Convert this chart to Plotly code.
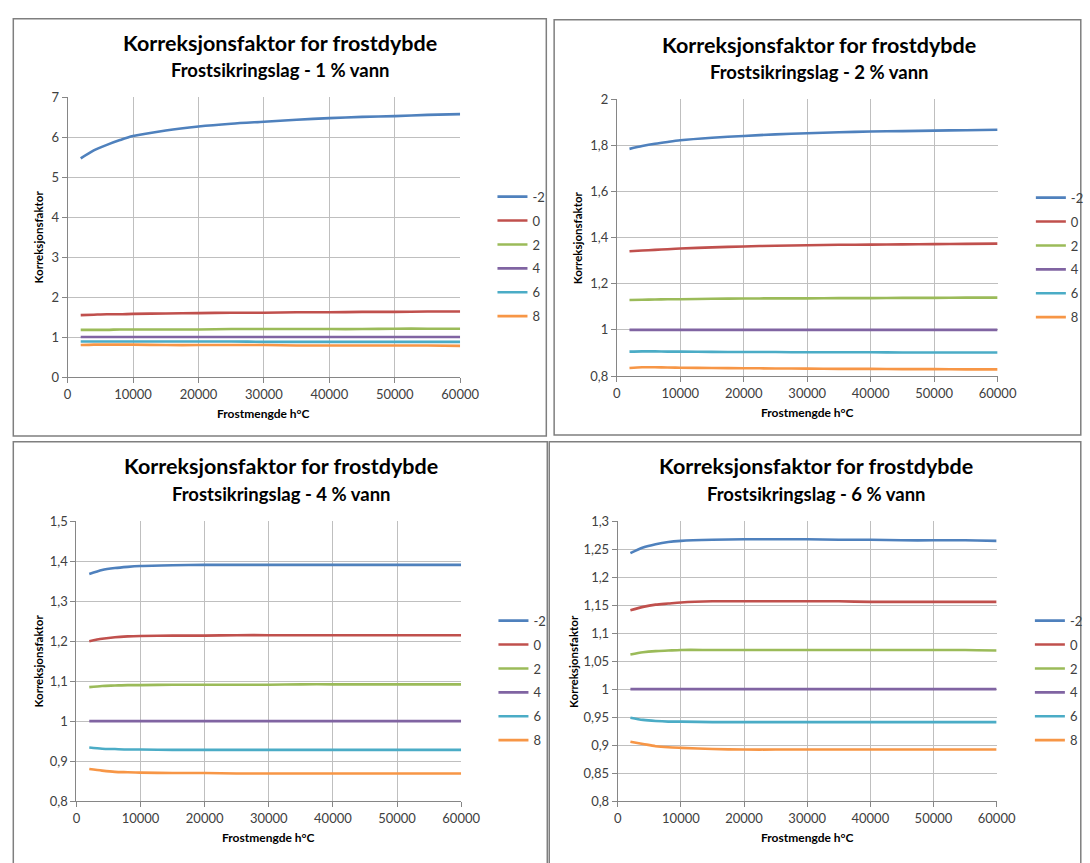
import plotly.graph_objects as go

W, H = 1090, 863

# ---------------- data ----------------
FROST_X = [2000, 4000, 6000, 8000, 10000, 15000, 20000, 25000, 30000,
           35000, 40000, 45000, 50000, 55000, 60000]
SERIES_NAMES = ["-2", "0", "2", "4", "6", "8"]
SERIES_COLORS = ["#4F81BD", "#C0504D", "#9BBB59", "#8064A2", "#4BACC6", "#F79646"]

VANN_1 = {
    "-2": [5.47, 5.67, 5.81, 5.93, 6.03, 6.17, 6.27, 6.34, 6.39, 6.44, 6.48, 6.51, 6.53, 6.56, 6.58],
    "0": [1.55, 1.56, 1.57, 1.57, 1.58, 1.59, 1.60, 1.61, 1.61, 1.62, 1.62, 1.63, 1.63, 1.64, 1.64],
    "2": [1.18, 1.18, 1.18, 1.19, 1.19, 1.19, 1.19, 1.20, 1.20, 1.20, 1.20, 1.20, 1.21, 1.21, 1.21],
    "4": [1.0] * 15,
    "6": [0.89, 0.89, 0.89, 0.89, 0.89, 0.89, 0.89, 0.89, 0.88, 0.88, 0.88, 0.88, 0.88, 0.88, 0.88],
    "8": [0.80, 0.81, 0.81, 0.81, 0.81, 0.80, 0.80, 0.80, 0.80, 0.79, 0.79, 0.79, 0.79, 0.79, 0.78],
}
VANN_2 = {
    "-2": [1.785, 1.797, 1.807, 1.815, 1.822, 1.833, 1.841, 1.848, 1.853, 1.857, 1.860, 1.862, 1.864, 1.866, 1.868],
    "0": [1.341, 1.344, 1.347, 1.350, 1.353, 1.358, 1.362, 1.365, 1.367, 1.369, 1.370, 1.371, 1.372, 1.373, 1.374],
    "2": [1.130, 1.131, 1.132, 1.133, 1.133, 1.135, 1.136, 1.137, 1.137, 1.138, 1.138, 1.139, 1.139, 1.140, 1.140],
    "4": [1.0] * 15,
    "6": [0.906, 0.907, 0.907, 0.906, 0.906, 0.905, 0.904, 0.904, 0.903, 0.903, 0.903, 0.902, 0.902, 0.902, 0.902],
    "8": [0.835, 0.838, 0.838, 0.837, 0.836, 0.835, 0.834, 0.833, 0.832, 0.831, 0.831, 0.830, 0.830, 0.829, 0.829],
}
VANN_4 = {
    "-2": [1.368, 1.378, 1.383, 1.386, 1.388, 1.390, 1.391, 1.391, 1.391, 1.391, 1.391, 1.391, 1.391, 1.391, 1.391],
    "0": [1.200, 1.206, 1.210, 1.212, 1.213, 1.214, 1.214, 1.215, 1.215, 1.215, 1.215, 1.215, 1.215, 1.215, 1.215],
    "2": [1.085, 1.088, 1.089, 1.090, 1.090, 1.091, 1.091, 1.091, 1.091, 1.092, 1.092, 1.092, 1.092, 1.092, 1.092],
    "4": [1.0] * 15,
    "6": [0.934, 0.931, 0.930, 0.929, 0.929, 0.928, 0.928, 0.928, 0.928, 0.928, 0.928, 0.928, 0.928, 0.928, 0.928],
    "8": [0.880, 0.876, 0.873, 0.872, 0.871, 0.870, 0.870, 0.869, 0.869, 0.869, 0.869, 0.869, 0.869, 0.869, 0.869],
}
VANN_6 = {
    "-2": [1.243, 1.253, 1.259, 1.263, 1.265, 1.267, 1.268, 1.268, 1.268, 1.267, 1.267, 1.266, 1.266, 1.266, 1.265],
    "0": [1.141, 1.147, 1.151, 1.153, 1.155, 1.157, 1.157, 1.157, 1.157, 1.157, 1.156, 1.156, 1.156, 1.156, 1.156],
    "2": [1.062, 1.066, 1.068, 1.069, 1.070, 1.070, 1.070, 1.070, 1.070, 1.070, 1.070, 1.070, 1.070, 1.070, 1.069],
    "4": [1.0] * 15,
    "6": [0.949, 0.945, 0.943, 0.942, 0.942, 0.941, 0.941, 0.941, 0.941, 0.941, 0.941, 0.941, 0.941, 0.941, 0.941],
    "8": [0.906, 0.902, 0.898, 0.896, 0.895, 0.893, 0.892, 0.892, 0.892, 0.892, 0.892, 0.892, 0.892, 0.892, 0.892],
}

TITLE = "Korreksjonsfaktor for frostdybde"
SUBTITLES = ["Frostsikringslag - 1 % vann", "Frostsikringslag - 2 % vann",
             "Frostsikringslag - 4 % vann", "Frostsikringslag - 6 % vann"]
X_TITLE = "Frostmengde h°C"
Y_TITLE = "Korreksjonsfaktor"
Y_RANGES = [(0, 7, 1), (0.8, 2, 0.2), (0.8, 1.5, 0.1), (0.8, 1.3, 0.05)]
X_RANGE = (0, 60000, 10000)
DATASETS = [VANN_1, VANN_2, VANN_4, VANN_6]

# ---------------- layout (pixels) ----------------
FONT = "Lato"
# plot area: x0, x1, ytop, ybottom
PLOTS = [(65, 466, 91, 376), (626, 1015, 93, 375), (74, 467, 523, 808), (627, 1014, 523, 808)]
BORDERS = [(9.5, 554, 11, 436), (562, 1100, 12, 435), (9.5, 555, 442, 875), (557, 1100, 442, 875)]
TITLE_POS = [(282, 36, 63), (833, 38, 65), (283, 467, 495), (830, 467, 495)]
YTITLE_X = [35, 586, 35, 581]
XTITLE_Y = [413, 412, 845, 845]
LEGEND_POS = [(499, 177), (1049, 178), (500, 609), (1048, 609)]


def px(x):
    return x / W


def py(y):
    return 1 - y / H


fig = go.Figure()
annotations = []
shapes = []

for i, data in enumerate(DATASETS):
    n = "" if i == 0 else str(i + 1)
    xa, ya = "x" + n, "y" + n
    leg = "legend" + n
    for name, color in zip(SERIES_NAMES, SERIES_COLORS):
        fig.add_trace(go.Scatter(
            x=FROST_X, y=data[name], name=name, mode="lines",
            line=dict(color=color, width=2.6, shape="spline", smoothing=0.8),
            xaxis=xa, yaxis=ya, legend=leg, legendgroup=f"{i}_{name}",
        ))
    x0, x1, yt, yb = PLOTS[i]
    ymin, ymax, ydt = Y_RANGES[i]
    axis_common = dict(
        showline=True, linecolor="#868686", linewidth=1,
        ticks="outside", ticklen=5, tickcolor="#868686", tickwidth=1,
        showgrid=True, gridcolor="#BFBFBF", gridwidth=1,
        zeroline=False, tickfont=dict(family=FONT, size=13, color="#404040"),
    )
    fig.update_layout(**{
        "xaxis" + n: dict(domain=[px(x0), px(x1)], anchor=ya, range=[X_RANGE[0], X_RANGE[1]],
                          tick0=0, dtick=X_RANGE[2], tickformat="d", **axis_common),
        "yaxis" + n: dict(domain=[py(yb), py(yt)], anchor=xa, range=[ymin, ymax],
                          tick0=ymin, dtick=ydt, **axis_common),
        leg: dict(x=px(LEGEND_POS[i][0]), y=py(LEGEND_POS[i][1]), xanchor="left", yanchor="top",
                  font=dict(family=FONT, size=13, color="#404040"), tracegroupgap=4,
                  bgcolor="rgba(0,0,0,0)", itemwidth=30),
    })
    tx, ty1, ty2 = TITLE_POS[i]
    annotations.append(dict(x=px(tx), y=py(ty1), xref="paper", yref="paper", text=f"<b>{TITLE}</b>",
                            showarrow=False, xanchor="center", yanchor="middle",
                            font=dict(family=FONT, size=21.5, color="#000000")))
    annotations.append(dict(x=px(tx), y=py(ty2), xref="paper", yref="paper", text=f"<b>{SUBTITLES[i]}</b>",
                            showarrow=False, xanchor="center", yanchor="middle",
                            font=dict(family=FONT, size=18.5, color="#000000")))
    annotations.append(dict(x=px(YTITLE_X[i]), y=py((yt + yb) / 2), xref="paper", yref="paper",
                            text=f"<b>{Y_TITLE}</b>", textangle=-90, showarrow=False,
                            xanchor="center", yanchor="middle",
                            font=dict(family=FONT, size=11.5, color="#000000")))
    annotations.append(dict(x=px((x0 + x1) / 2), y=py(XTITLE_Y[i]), xref="paper", yref="paper",
                            text=f"<b>{X_TITLE}</b>", showarrow=False,
                            xanchor="center", yanchor="middle",
                            font=dict(family=FONT, size=12, color="#000000")))
    bx0, bx1, by0, by1 = BORDERS[i]
    shapes.append(dict(type="rect", xref="paper", yref="paper",
                       x0=px(bx0), x1=px(bx1), y0=py(by1), y1=py(by0),
                       line=dict(color="#7F7F7F", width=1.5), fillcolor="rgba(0,0,0,0)", layer="below"))

fig.update_layout(
    width=W, height=H, margin=dict(l=0, r=0, t=0, b=0),
    paper_bgcolor="white", plot_bgcolor="white",
    separators=",.", annotations=annotations, shapes=shapes,
    font=dict(family=FONT),
)

fig.write_html("out.html")
